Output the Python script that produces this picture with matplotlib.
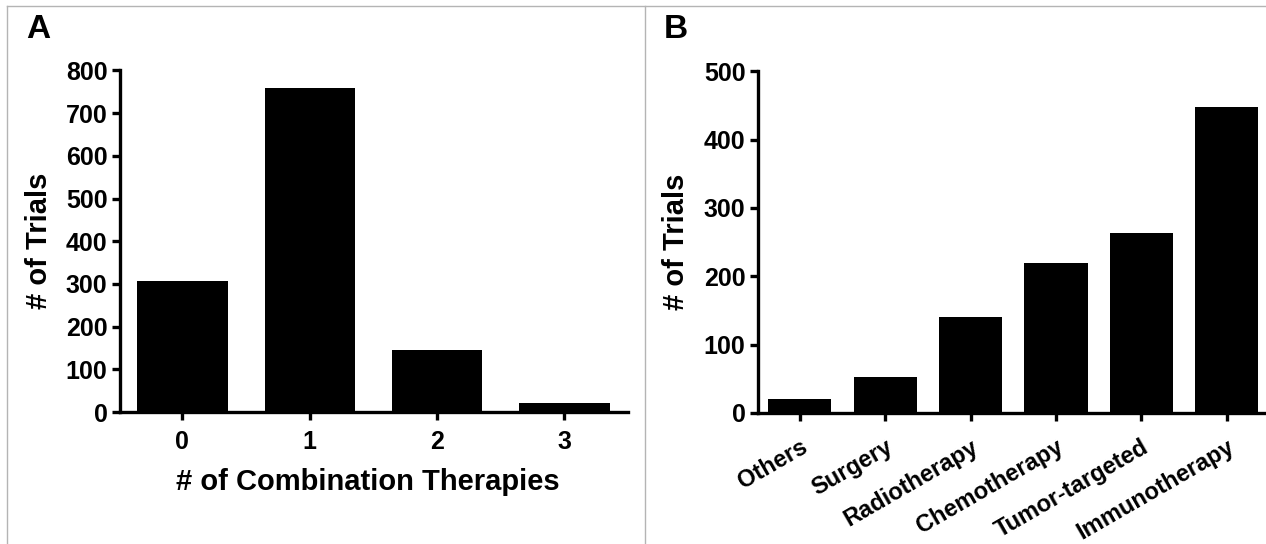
import matplotlib
matplotlib.use('Agg')
import matplotlib.pyplot as plt
from matplotlib.lines import Line2D

plt.rcParams['font.family'] = ['Liberation Sans', 'DejaVu Sans']
plt.rcParams['font.weight'] = 'bold'

# panel A data
combo_counts = ['0', '1', '2', '3']
combo_trials = [307, 760, 146, 20]

# panel B data
therapy_types = ['Others', 'Surgery', 'Radiotherapy', 'Chemotherapy',
                 'Tumor-targeted', 'Immunotherapy']
therapy_trials = [20, 53, 141, 220, 264, 448]

W, H = 1266, 544
fig = plt.figure(figsize=(W / 100, H / 100), dpi=100)


def style_axis(ax):
    ax.spines['top'].set_visible(False)
    ax.spines['right'].set_visible(False)
    for s in ['left', 'bottom']:
        ax.spines[s].set_linewidth(2.4)
    ax.tick_params(axis='both', direction='out', length=6, width=2.4,
                   labelsize=18, pad=3)
    for lab in ax.get_yticklabels():
        lab.set_fontweight('bold')


# panel A
axA = fig.add_axes([120 / W, 1 - 412 / H, (628 - 120) / W, (412 - 70.5) / H])
axA.bar(range(len(combo_counts)), combo_trials, width=0.71, color='black')
axA.set_xlim(-0.49, 3.5)
axA.set_ylim(0, 800)
axA.set_yticks([0, 100, 200, 300, 400, 500, 600, 700, 800])
axA.set_xticks(range(len(combo_counts)))
axA.set_xticklabels(combo_counts, fontweight='bold')
style_axis(axA)
axA.tick_params(axis='x', pad=7)
axA.set_ylabel('# of Trials', fontsize=21, fontweight='bold')
axA.yaxis.set_label_coords(-0.132, 0.5)
axA.set_xlabel('# of Combination Therapies', fontsize=21, fontweight='bold')
axA.xaxis.set_label_coords(0.488, -0.205)
axA.xaxis.label.set_va('center')

# panel B
axB = fig.add_axes([758 / W, 1 - 413 / H, (1266 - 758) / W, (413 - 71.2) / H])
axB.bar(range(len(therapy_types)), therapy_trials, width=0.74, color='black')
axB.set_xlim(-0.49, 5.46)
axB.set_ylim(0, 500)
axB.set_yticks([0, 100, 200, 300, 400, 500])
axB.set_xticks(range(len(therapy_types)))
axB.set_xticklabels(therapy_types, rotation=30, ha='right',
                    rotation_mode='anchor', fontweight='bold')
style_axis(axB)
axB.tick_params(axis='x', pad=10, labelsize=17)
axB.set_ylabel('# of Trials', fontsize=21, fontweight='bold')
axB.yaxis.set_label_coords(-0.134, 0.5)

# panel letters
fig.text(26 / W, 1 - 30 / H, 'A', fontsize=24, fontweight='bold', va='center')
fig.text(664 / W, 1 - 30 / H, 'B', fontsize=24, fontweight='bold', va='center')

# frame lines
frame = '#b4b4b4'
fig.add_artist(Line2D([7 / W, 7 / W], [0, 1 - 6 / H], color=frame, lw=1))
fig.add_artist(Line2D([7 / W, 1], [1 - 6 / H, 1 - 6 / H], color=frame, lw=1))
fig.add_artist(Line2D([645 / W, 645 / W], [0, 1 - 6 / H], color=frame, lw=1))

fig.savefig('out.png', dpi=100)
